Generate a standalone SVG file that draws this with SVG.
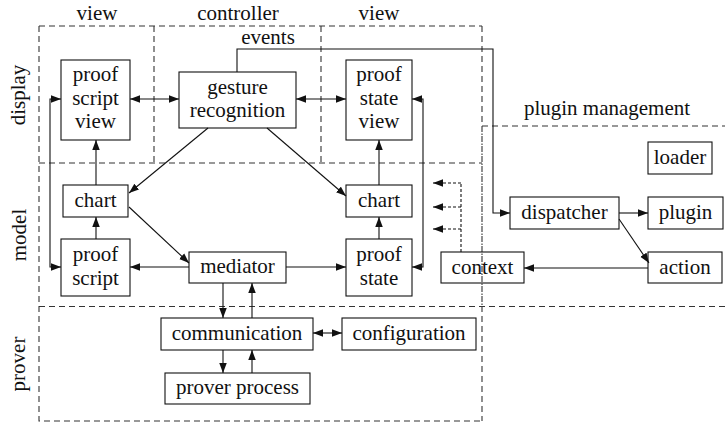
<svg xmlns="http://www.w3.org/2000/svg" width="725" height="422" viewBox="0 0 725 422">
<style>
.t{font-family:"Liberation Serif","Times New Roman",serif;font-size:21px;fill:#111;text-anchor:middle}
.box{fill:none;stroke:#111;stroke-width:1.1}
.reg{fill:none;stroke:#333;stroke-width:1.1;stroke-dasharray:6 4}
.c{fill:none;stroke:#111;stroke-width:1.1}
.d{fill:none;stroke:#111;stroke-width:1.1;stroke-dasharray:3 2}
</style>
<defs>
<marker id="ah" markerUnits="userSpaceOnUse" markerWidth="10" markerHeight="8" refX="8" refY="3" orient="auto-start-reverse" viewBox="0 0 8 6">
<path d="M0,0 L8,3 L0,6 z" fill="#111"/>
</marker>
</defs>
<g id="regions">
<path class="reg" d="M39,26 H482 M39,26 V421 H482 M482,26 V421 M154,26 V163 M321,26 V163 M39,163 H482 M39,306.5 H725 M482,126 H725"/>
<path fill="none" stroke="#333" stroke-width="1.1" stroke-dasharray="1.5 8.5" stroke-dashoffset="2.5" d="M482,126 V306"/>
<text class="t" font-family="Liberation Serif, serif" x="97" y="20">view</text>
<text class="t" font-family="Liberation Serif, serif" x="238" y="20">controller</text>
<text class="t" font-family="Liberation Serif, serif" x="379" y="20">view</text>
<text class="t" font-family="Liberation Serif, serif" x="268" y="44">events</text>
<text class="t" font-family="Liberation Serif, serif" x="607" y="115">plugin management</text>
<text class="t" font-family="Liberation Serif, serif" transform="translate(25,95) rotate(-90)">display</text>
<text class="t" font-family="Liberation Serif, serif" transform="translate(26,235) rotate(-90)">model</text>
<text class="t" font-family="Liberation Serif, serif" transform="translate(25,364) rotate(-90)">prover</text>
</g>
<g id="proof-script-view"><rect class="box" x="61" y="60" width="69" height="80"/><text class="t" font-family="Liberation Serif, serif" x="95.5" y="81">proof</text><text class="t" font-family="Liberation Serif, serif" x="95.5" y="104.5">script</text><text class="t" font-family="Liberation Serif, serif" x="95.5" y="128">view</text></g>
<g id="gesture-recognition"><rect class="box" x="179" y="72" width="117" height="56"/><text class="t" font-family="Liberation Serif, serif" x="237.5" y="94">gesture</text><text class="t" font-family="Liberation Serif, serif" x="237.5" y="117">recognition</text></g>
<g id="proof-state-view"><rect class="box" x="346" y="60" width="66" height="80"/><text class="t" font-family="Liberation Serif, serif" x="379" y="81">proof</text><text class="t" font-family="Liberation Serif, serif" x="379" y="104.5">state</text><text class="t" font-family="Liberation Serif, serif" x="379" y="128">view</text></g>
<g id="chart-left"><rect class="box" x="63" y="185" width="65" height="32"/><text class="t" font-family="Liberation Serif, serif" x="95.5" y="207">chart</text></g>
<g id="chart-right"><rect class="box" x="346" y="185" width="66" height="32"/><text class="t" font-family="Liberation Serif, serif" x="379" y="207">chart</text></g>
<g id="proof-script"><rect class="box" x="61" y="239" width="69" height="57"/><text class="t" font-family="Liberation Serif, serif" x="95.5" y="261">proof</text><text class="t" font-family="Liberation Serif, serif" x="95.5" y="285">script</text></g>
<g id="mediator"><rect class="box" x="189" y="252" width="97" height="31"/><text class="t" font-family="Liberation Serif, serif" x="237.5" y="273">mediator</text></g>
<g id="proof-state"><rect class="box" x="346" y="239" width="66" height="57"/><text class="t" font-family="Liberation Serif, serif" x="379" y="261">proof</text><text class="t" font-family="Liberation Serif, serif" x="379" y="285">state</text></g>
<g id="context"><rect class="box" x="441" y="252" width="83" height="31"/><text class="t" font-family="Liberation Serif, serif" x="482.5" y="274">context</text></g>
<g id="loader"><rect class="box" x="648" y="142" width="64" height="32"/><text class="t" font-family="Liberation Serif, serif" x="680" y="164">loader</text></g>
<g id="dispatcher"><rect class="box" x="510" y="197" width="109" height="32"/><text class="t" font-family="Liberation Serif, serif" x="564.5" y="219">dispatcher</text></g>
<g id="plugin"><rect class="box" x="648" y="197" width="75" height="32"/><text class="t" font-family="Liberation Serif, serif" x="685.5" y="219">plugin</text></g>
<g id="action"><rect class="box" x="648" y="252" width="74" height="31"/><text class="t" font-family="Liberation Serif, serif" x="685" y="274">action</text></g>
<g id="communication"><rect class="box" x="161" y="318" width="152" height="32"/><text class="t" font-family="Liberation Serif, serif" x="237" y="340">communication</text></g>
<g id="configuration"><rect class="box" x="342" y="318" width="134" height="32"/><text class="t" font-family="Liberation Serif, serif" x="409" y="340">configuration</text></g>
<g id="prover-process"><rect class="box" x="165" y="373" width="145" height="31"/><text class="t" font-family="Liberation Serif, serif" x="237.5" y="394">prover process</text></g>
<g id="connectors">
<g marker-start="url(#ah)" marker-end="url(#ah)">
<path class="c" d="M130,99 H179"/>
<path class="c" d="M296,99 H346"/>
<path class="c" d="M61,99 H50 V267 H61"/>
<path class="c" d="M412,99 H423 V267 H412"/>
<path class="c" d="M313,333 H342"/>
</g>
<g marker-end="url(#ah)">
<path class="c" d="M96,185 V140"/>
<path class="c" d="M96,239 V217"/>
<path class="c" d="M379,185 V140"/>
<path class="c" d="M379,239 V217"/>
<path class="c" d="M208,128 L129,193"/>
<path class="c" d="M267,128 L346,196"/>
<path class="c" d="M129,207 L189,263"/>
<path class="c" d="M189,267 H130"/>
<path class="c" d="M286,267 H346"/>
<path class="c" d="M223,283 V318"/>
<path class="c" d="M252,318 V283"/>
<path class="c" d="M223,350 V373"/>
<path class="c" d="M252,373 V350"/>
<path class="c" d="M237,72 V49 H493 V213 H510"/>
<path class="c" d="M619,213 H648"/>
<path class="c" d="M619,219 L649,263"/>
<path class="c" d="M648,268 H524"/>
</g>
<path class="d" d="M461,252 V183"/>
<path class="d" marker-end="url(#ah)" d="M461,183 H433"/>
<path class="d" marker-end="url(#ah)" d="M461,207 H433"/>
<path class="d" marker-end="url(#ah)" d="M461,229 H433"/>
</g>
</svg>
